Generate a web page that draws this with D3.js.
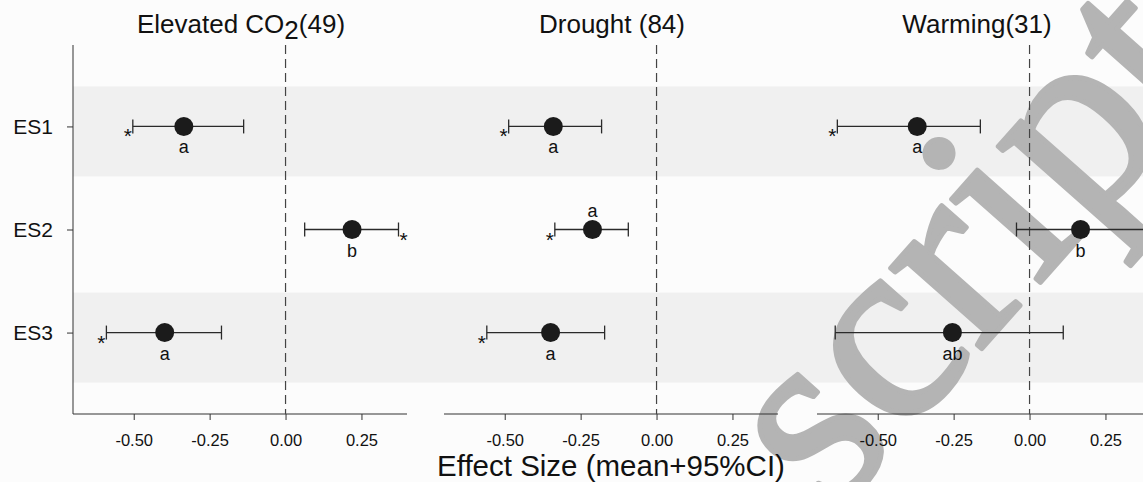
<!DOCTYPE html>
<html>
<head>
<meta charset="utf-8">
<script src="https://cdn.jsdelivr.net/npm/d3@7"></script>
<style>
  body { margin: 0; background: #fcfcfc; }
  svg { display: block; font-family: "Liberation Sans", Arial, sans-serif; }
</style>
</head>
<body>
<svg width="1143" height="482"></svg>
<script>
const categories = ["ES1", "ES2", "ES3"];
const tickValues = [-0.5, -0.25, 0, 0.25];

// Elevated CO2
const co2Mean = [-0.335, 0.219, -0.398];
const co2Low = [-0.503, 0.063, -0.590];
const co2High = [-0.138, 0.372, -0.211];
const co2Letters = ["a", "b", "a"];
const co2Sig = [true, true, true];

// Drought
const droughtMean = [-0.340, -0.211, -0.349];
const droughtLow = [-0.487, -0.335, -0.559];
const droughtHigh = [-0.181, -0.093, -0.171];
const droughtLetters = ["a", "a", "a"];
const droughtSig = [true, true, true];

// Warming
const warmMean = [-0.370, 0.168, -0.254];
const warmLow = [-0.633, -0.043, -0.640];
const warmHigh = [-0.162, 0.380, 0.111];
const warmLetters = ["a", "b", "ab"];
const warmSig = [true, false, false];

const panels = [
  { title: ["Elevated CO", "2", "(49)"], mean: co2Mean, low: co2Low, high: co2High, letters: co2Letters, sig: co2Sig, left: 73 },
  { title: ["Drought (84)"], mean: droughtMean, low: droughtLow, high: droughtHigh, letters: droughtLetters, sig: droughtSig, left: 444 },
  { title: ["Warming(31)"], mean: warmMean, low: warmLow, high: warmHigh, letters: warmLetters, sig: warmSig, left: 817 }
];
// letter drawn above the point instead of below
const letterAbove = [[false, false, false], [false, true, false], [false, false, false]];

const svg = d3.select("svg");
const panelWidth = 334, plotTop = 45, plotBottom = 414;

const y = d3.scalePoint()
  .domain(categories)
  .range([plotTop, plotBottom])
  .padding(0.79);

// shaded bands behind ES1 and ES3
svg.selectAll(".band")
  .data(categories.filter((d, i) => i % 2 === 0))
  .enter()
  .append("rect")
  .attr("x", 73)
  .attr("width", 1143 - 73)
  .attr("y", d => y(d) - 40)
  .attr("height", 90)
  .attr("fill", "#f0f0f0");

// watermark
svg.append("text")
  .attr("transform", "translate(832,518) rotate(-48.5)")
  .attr("font-family", "Liberation Serif, Times New Roman, serif")
  .attr("font-size", 265)
  .attr("fill", "#b4b4b4")
  .attr("stroke", "#b4b4b4")
  .attr("stroke-width", 5)
  .attr("stroke-linejoin", "round")
  .text("script");

// y axis on first panel
const yAxis = svg.append("g")
  .attr("transform", "translate(73,0)")
  .call(d3.axisLeft(y).tickSize(6).tickPadding(14));
yAxis.select(".domain").attr("d", `M0,${plotTop}V${plotBottom}`).attr("stroke", "#333");
yAxis.selectAll(".tick line").attr("stroke", "#333");
yAxis.selectAll("text")
  .attr("font-size", 21)
  .attr("fill", "#111")
  .attr("font-family", "Liberation Sans, Arial, sans-serif");

panels.forEach((p, pi) => {
  const x = d3.scaleLinear()
    .domain([-0.7, 0.4])
    .range([p.left, p.left + panelWidth]);

  const g = svg.append("g");

  // title
  const t = g.append("text")
    .attr("x", x(-0.15) + (pi === 2 ? -7 : 1))
    .attr("y", 33)
    .attr("text-anchor", "middle")
    .attr("font-size", 26)
    .attr("fill", "#111");
  t.append("tspan").text(p.title[0]);
  if (p.title.length > 1) {
    t.append("tspan").attr("dy", 6).text(p.title[1]);
    t.append("tspan").attr("dy", -6).text(p.title[2]);
  }

  // x axis
  const xAxis = g.append("g")
    .attr("transform", `translate(0,${plotBottom})`)
    .call(d3.axisBottom(x).tickValues(tickValues).tickSize(6).tickPadding(14));
  xAxis.select(".domain").attr("d", `M${p.left},0H${p.left + panelWidth}`).attr("stroke", "#333");
  xAxis.selectAll(".tick line").attr("stroke", "#333");
  xAxis.selectAll("text")
    .attr("font-size", 16.5)
    .attr("fill", "#111")
    .attr("font-family", "Liberation Sans, Arial, sans-serif")
    .text(d => d.toFixed(2));

  // zero line
  g.append("line")
    .attr("x1", x(0)).attr("x2", x(0))
    .attr("y1", plotTop).attr("y2", plotBottom)
    .attr("stroke", "#444")
    .attr("stroke-width", 1.2)
    .attr("stroke-dasharray", "9,5");

  const rows = categories.map((c, i) => ({
    cat: c, mean: p.mean[i], low: p.low[i], high: p.high[i],
    letter: p.letters[i], sig: p.sig[i], above: letterAbove[pi][i]
  }));

  g.selectAll(".ci")
    .data(rows)
    .enter()
    .append("line")
    .attr("x1", d => x(d.low))
    .attr("x2", d => x(d.high))
    .attr("y1", d => y(d.cat))
    .attr("y2", d => y(d.cat))
    .attr("stroke", "#2a2a2a")
    .attr("stroke-width", 1.3);

  ["low", "high"].forEach(k => {
    g.selectAll(".cap-" + k)
      .data(rows)
      .enter()
      .append("line")
      .attr("x1", d => x(d[k]))
      .attr("x2", d => x(d[k]))
      .attr("y1", d => y(d.cat) - 7)
      .attr("y2", d => y(d.cat) + 7)
      .attr("stroke", "#2a2a2a")
      .attr("stroke-width", 1.3);
  });

  g.selectAll(".pt")
    .data(rows)
    .enter()
    .append("circle")
    .attr("cx", d => x(d.mean))
    .attr("cy", d => y(d.cat))
    .attr("r", 9.5)
    .attr("fill", "#1b1b1b");

  g.selectAll(".letter")
    .data(rows)
    .enter()
    .append("text")
    .attr("x", d => x(d.mean))
    .attr("y", d => y(d.cat) + (d.above ? -13 : 27))
    .attr("text-anchor", "middle")
    .attr("font-size", 18)
    .attr("fill", "#111")
    .text(d => d.letter);

  g.selectAll(".star")
    .data(rows.filter(d => d.sig))
    .enter()
    .append("text")
    .attr("x", d => d.mean < 0 ? x(d.low) - 1 : x(d.high) + 1)
    .attr("y", d => y(d.cat) + 17)
    .attr("text-anchor", d => d.mean < 0 ? "end" : "start")
    .attr("font-size", 21)
    .attr("fill", "#111")
    .text("*");
});

// shared x axis title
svg.append("text")
  .attr("x", 611)
  .attr("y", 476)
  .attr("text-anchor", "middle")
  .attr("font-size", 29.5)
  .attr("fill", "#111")
  .text("Effect Size (mean+95%CI)");
</script>
</body>
</html>
